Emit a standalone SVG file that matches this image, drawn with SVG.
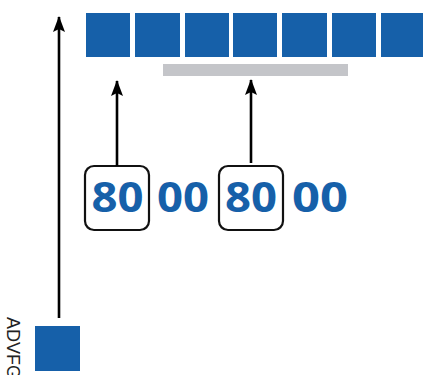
<svg xmlns="http://www.w3.org/2000/svg" width="423" height="375" viewBox="0 0 423 375">
<style>
.sq{fill:#1660A9}
.num{font-family:"Open Sans","Liberation Sans",sans-serif;font-weight:700;font-size:42px;fill:#1660A9;text-anchor:middle}
.box{fill:none;stroke:#111;stroke-width:2.2}
.ln{stroke:#000;stroke-width:2.6;fill:none}
.lbl{font-family:"Liberation Sans",Arial,sans-serif;font-size:18px;fill:#222}
</style>
<defs>
<marker id="ah" viewBox="0 0 16 12" refX="15" refY="6" markerWidth="16" markerHeight="12" markerUnits="userSpaceOnUse" orient="auto">
<path d="M0,0 L16,6 L0,12 L3,6 Z" fill="#000"/>
</marker>
</defs>
<g id="row">
<rect class="sq" x="86" y="13" width="44" height="44"/>
<rect class="sq" x="135" y="13" width="45" height="44"/>
<rect class="sq" x="185" y="13" width="44" height="44"/>
<rect class="sq" x="233" y="13" width="44" height="44"/>
<rect class="sq" x="282" y="13" width="45" height="44"/>
<rect class="sq" x="332" y="13" width="44" height="44"/>
<rect class="sq" x="381" y="13" width="44" height="44"/>
</g>
<g id="bar"><rect x="163" y="64" width="185" height="12" fill="#C4C5C9"/></g>
<g id="box1">
<rect class="box" x="85" y="166" width="64" height="64" rx="9"/>
<text class="num" x="117.5" y="212" textLength="52" lengthAdjust="spacingAndGlyphs">80</text>
</g>
<g id="t1"><text class="num" x="183" y="212" textLength="52" lengthAdjust="spacingAndGlyphs">00</text></g>
<g id="box2">
<rect class="box" x="219" y="166" width="64" height="64" rx="9"/>
<text class="num" x="251" y="212" textLength="52" lengthAdjust="spacingAndGlyphs">80</text>
</g>
<g id="t2"><text class="num" x="320" y="212" textLength="56" lengthAdjust="spacingAndGlyphs">00</text></g>
<g id="small">
<rect class="sq" x="35" y="326" width="45" height="45"/>
<text class="lbl" transform="translate(7,317) rotate(90)">ADVFG</text>
</g>
<g id="connectors">
<line class="ln" x1="59" y1="318" x2="59" y2="17" marker-end="url(#ah)"/>
<line class="ln" x1="117" y1="166" x2="117" y2="81" marker-end="url(#ah)"/>
<line class="ln" x1="251" y1="163" x2="251" y2="80" marker-end="url(#ah)"/>
</g>
</svg>
